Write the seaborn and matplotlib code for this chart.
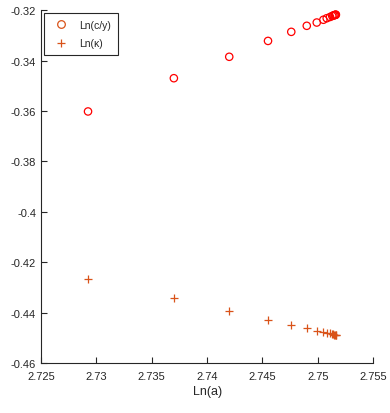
import pandas as pd
import matplotlib
matplotlib.use('Agg')
import matplotlib.pyplot as plt
from matplotlib.lines import Line2D
from matplotlib.ticker import FuncFormatter, MultipleLocator
import seaborn as sns

ln_a = [2.72925, 2.7370, 2.7420, 2.7455, 2.7476, 2.7490, 2.7499, 2.7505,
        2.7508, 2.7511, 2.7513, 2.7514, 2.7515, 2.75155, 2.7516, 2.75163]
ln_cy = [-0.3602, -0.3470, -0.3385, -0.3322, -0.3286, -0.3262, -0.3249, -0.3238,
         -0.3232, -0.3227, -0.3223, -0.3221, -0.3220, -0.3219, -0.3218, -0.3218]
ln_kappa = [-0.4267, -0.4344, -0.4395, -0.4429, -0.4449, -0.4462, -0.4474, -0.4479,
            -0.4482, -0.4483, -0.4486, -0.4487, -0.4488, -0.4489, -0.4489, -0.4490]

df = pd.DataFrame({'ln_a': ln_a, 'ln_cy': ln_cy, 'ln_kappa': ln_kappa})

sns.set_style('ticks')
plt.rcParams['font.family'] = ['Liberation Sans', 'DejaVu Sans']

fig = plt.figure(figsize=(3.9, 4.14), dpi=100)
ax = fig.add_axes([0.105, 0.121, 0.852, 0.852])

sns.scatterplot(x='ln_a', y='ln_cy', data=df, marker='o', s=28,
                facecolors='none', edgecolor='red', linewidth=0.9, ax=ax)
sns.scatterplot(x='ln_a', y='ln_kappa', data=df, marker='+', s=36,
                color='#D95319', linewidth=0.9, ax=ax)

ax.set_xlim(2.725, 2.755)
ax.set_ylim(-0.46, -0.32)
ax.xaxis.set_major_locator(MultipleLocator(0.005))
ax.yaxis.set_major_locator(MultipleLocator(0.02))
fmt = FuncFormatter(lambda v, p: '%g' % round(v, 4))
ax.xaxis.set_major_formatter(fmt)
ax.yaxis.set_major_formatter(fmt)
ax.tick_params(direction='in', length=4, width=0.8, colors='#262626', labelsize=8)
ax.tick_params(axis='x', pad=6)
for s in ['top', 'right']:
    ax.spines[s].set_visible(False)
for s in ['left', 'bottom']:
    ax.spines[s].set_color('#262626')
    ax.spines[s].set_linewidth(0.8)

ax.set_xlabel('Ln(a)', fontsize=9, color='#262626', labelpad=3)
ax.set_ylabel('')

handles = [Line2D([], [], ls='', marker='o', mfc='none', mec='#D95319', ms=5.5, mew=0.9),
           Line2D([], [], ls='', marker='+', color='#D95319', ms=6, mew=0.9)]
leg = ax.legend(handles, ['Ln(c/y)', 'Ln(κ)'], loc='upper left', fontsize=7.5,
                fancybox=False, framealpha=1, edgecolor='#262626',
                borderaxespad=0.3, handletextpad=0.8, borderpad=0.6, labelspacing=0.85)
leg.get_frame().set_linewidth(0.8)

plt.savefig('out.png', dpi=100)
